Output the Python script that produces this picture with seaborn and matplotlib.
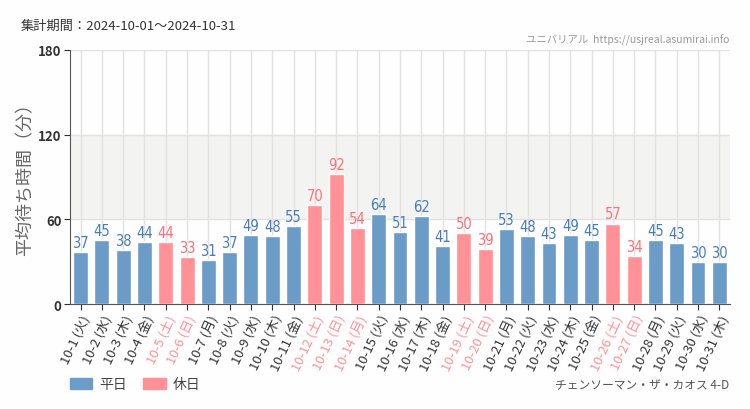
import pandas as pd
import matplotlib.pyplot as plt
import seaborn as sns
from matplotlib.patches import Patch

# data
days = ['10-1', '10-2', '10-3', '10-4', '10-5', '10-6', '10-7', '10-8', '10-9', '10-10',
        '10-11', '10-12', '10-13', '10-14', '10-15', '10-16', '10-17', '10-18', '10-19', '10-20',
        '10-21', '10-22', '10-23', '10-24', '10-25', '10-26', '10-27', '10-28', '10-29', '10-30', '10-31']
weekdays = ['火', '水', '木', '金', '土', '日', '月', '火', '水', '木',
            '金', '土', '日', '月', '火', '水', '木', '金', '土', '日',
            '月', '火', '水', '木', '金', '土', '日', '月', '火', '水', '木']
wait = [37, 45, 38, 44, 44, 33, 31, 37, 49, 48,
        55, 70, 92, 54, 64, 51, 62, 41, 50, 39,
        53, 48, 43, 49, 45, 57, 34, 45, 43, 30, 30]
holiday = [0, 0, 0, 0, 1, 1, 0, 0, 0, 0,
           0, 1, 1, 1, 0, 0, 0, 0, 1, 1,
           0, 0, 0, 0, 0, 1, 1, 0, 0, 0, 0]

df = pd.DataFrame({'day': days, 'wd': weekdays, 'wait': wait,
                   'type': ['休日' if h else '平日' for h in holiday]})
df['label'] = df['day'] + ' (' + df['wd'] + ')'

sns.set_style('white')
plt.rcParams['font.family'] = ['Noto Sans CJK JP', 'DejaVu Sans']

blue = '#6b9bc7'
pink = '#ff9197'
blue_txt = '#4a7db5'
pink_txt = '#ff6f78'

fig = plt.figure(figsize=(7.5, 4.1), dpi=100, facecolor='#fdfefd')
ax = fig.add_axes([0.0933, 0.256, 0.88, 0.62])
ax.set_facecolor('#fdfefd')
ax.axhspan(60, 120, color='#f3f4f2', zorder=0)

sns.barplot(data=df, x='label', y='wait', hue='type', palette={'平日': blue, '休日': pink},
            width=0.7, dodge=False, legend=False, ax=ax, zorder=3, saturation=1)

for i, (v, h) in enumerate(zip(wait, holiday)):
    ax.text(i, v + 1.5, str(v), ha='center', va='bottom', fontsize=10.5,
            color=pink_txt if h else blue_txt, family='DejaVu Sans', fontstretch='condensed', zorder=4)

ax.set_ylim(0, 180)
ax.set_xlim(-0.5, len(days) - 0.5)
ax.set_yticks([0, 60, 120, 180])
ax.grid(True, axis='both', color='#e2e2e2', linewidth=1, zorder=1)
ax.set_axisbelow(True)
for s in ['top', 'right']:
    ax.spines[s].set_visible(False)
ax.spines['left'].set_color('#555555')
ax.spines['bottom'].set_color('#555555')
ax.tick_params(axis='y', length=4, color='#333333', labelsize=9.5, labelcolor='#333333', pad=2, left=True)
ax.tick_params(axis='x', length=4, color='#333333', labelsize=9.5, pad=2, bottom=True)
ax.set_xticks(range(len(days)))
ax.set_xticklabels(df['label'], rotation=65, ha='right', rotation_mode='anchor')
for t, h in zip(ax.get_xticklabels(), holiday):
    t.set_color(pink if h else '#333333')
for t in ax.get_yticklabels():
    t.set_fontweight('bold')
ax.set_xlabel('')
ax.set_ylabel('平均待ち時間（分）', fontsize=13, color='#666666')
ax.yaxis.set_label_coords(-0.054, 0.51)

fig.text(0.027, 0.935, '集計期間：2024-10-01～2024-10-31', fontsize=9.5, color='#333333', va='center')
fig.text(0.972, 0.902, 'ユニバリアル  https://usjreal.asumirai.info', fontsize=7.5, color='#999999',
         ha='right', va='center')
fig.text(0.972, 0.06, 'チェンソーマン・ザ・カオス 4-D', fontsize=8.5, color='#555555', ha='right', va='center')

handles = [Patch(color=blue, label='平日'), Patch(color=pink, label='休日')]
fig.legend(handles=handles, loc='center left', bbox_to_anchor=(0.093, 0.06), ncol=2, frameon=False,
           fontsize=10, handlelength=1.6, handleheight=0.9, columnspacing=1.2, handletextpad=0.5,
           labelcolor='#444444', borderpad=0, borderaxespad=0)

fig.savefig('out.png', dpi=100, facecolor=fig.get_facecolor())
